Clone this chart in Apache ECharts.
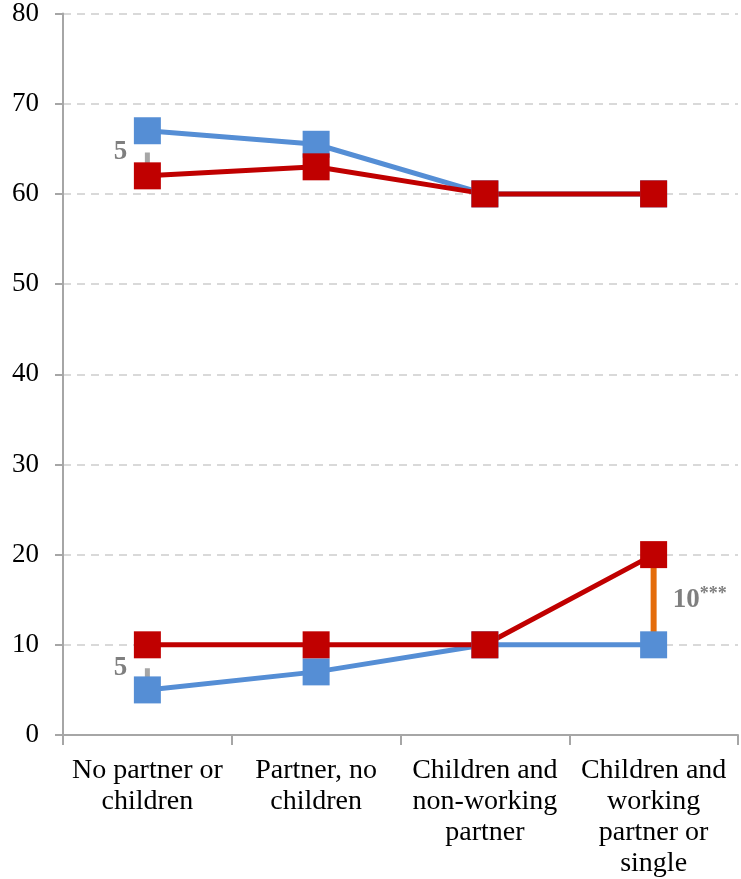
<!DOCTYPE html>
<html><head><meta charset="utf-8">
<script src="https://cdn.jsdelivr.net/npm/echarts@6/dist/echarts.min.js"></script>
<style>html,body{margin:0;padding:0;background:#fff}#c{width:741px;height:879px}</style>
</head><body><div id="c"></div>
<script>
const categories = ["No partner or\nchildren", "Partner, no\nchildren", "Children and\nnon-working\npartner", "Children and\nworking\npartner or\nsingle"];
const blueUpper = [67, 65.5, 60, 60];
const redUpper = [62, 63, 60, 60];
const blueLower = [5, 7, 10, 10];
const redLower = [10, 10, 10, 20];
const yTicks = [0, 10, 20, 30, 40, 50, 60, 70, 80];
// annotation gaps: [category index, from, to, label]
const gapTop = [0, 64.6, 62, "5"];
const gapBottom = [0, 7.4, 5, "5"];
const gapRight = [3, 20, 10, "10***"];

const BLUE = "#558ED5", RED = "#C00000", SERIF = "Liberation Serif";
function lineSeries(data, color) {
  return {type: "line", data: data, symbol: "rect", symbolSize: 27,
    lineStyle: {color: color, width: 5}, itemStyle: {color: color},
    z: 5, animation: false};
}
function gapSeries(g, color, width, labelOffset) {
  return {type: "line", data: [[categories[g[0]], g[1]], [categories[g[0]], g[2]]],
    symbol: "none", lineStyle: {color: color, width: width}, z: 2, animation: false,
    markPoint: {symbol: "circle", symbolSize: 0,
      data: [{coord: [categories[g[0]], (g[1] + g[2]) / 2], value: g[3]}],
      label: {show: true, formatter: g[3] === "10***" ? "{a|10}{b|***}" : g[3],
        offset: labelOffset, color: "#7F7F7F", fontFamily: SERIF, fontWeight: "bold", fontSize: 27,
        rich: {a: {color: "#7F7F7F", fontFamily: SERIF, fontWeight: "bold", fontSize: 27},
               b: {color: "#7F7F7F", fontFamily: SERIF, fontWeight: "bold", fontSize: 18, verticalAlign: "top", padding: [0,0,10,0]}}}}
  };
}
const chart = echarts.init(document.getElementById("c"));
chart.setOption({
  animation: false,
  grid: {left: 63, right: 3, top: 13, bottom: 144},
  xAxis: {type: "category", data: categories, boundaryGap: true,
    axisLine: {lineStyle: {color: "#A6A6A6", width: 2}},
    axisTick: {show: true, alignWithLabel: false, length: 10, lineStyle: {color: "#A6A6A6", width: 2}},
    axisLabel: {interval: 0, color: "#000", fontFamily: SERIF, fontSize: 28, lineHeight: 31, margin: 20}},
  yAxis: {type: "value", min: yTicks[0], max: yTicks[yTicks.length - 1], interval: 10,
    axisLine: {show: true, lineStyle: {color: "#A6A6A6", width: 2}},
    axisTick: {show: true, length: 8, lineStyle: {color: "#A6A6A6", width: 2}},
    axisLabel: {color: "#000", fontFamily: SERIF, fontSize: 27, margin: 24},
    splitLine: {show: true, lineStyle: {color: "#D9D9D9", width: 2, type: [8, 6]}}},
  series: [
    gapSeries(gapTop, "#A6A6A6", 5, [-27, -12]),
    gapSeries(gapBottom, "#A6A6A6", 5, [-27, -11]),
    gapSeries(gapRight, "#E46C0A", 6, [46, 0]),
    lineSeries(blueUpper, BLUE),
    lineSeries(redUpper, RED),
    lineSeries(blueLower, BLUE),
    lineSeries(redLower, RED)
  ]
});
</script></body></html>
